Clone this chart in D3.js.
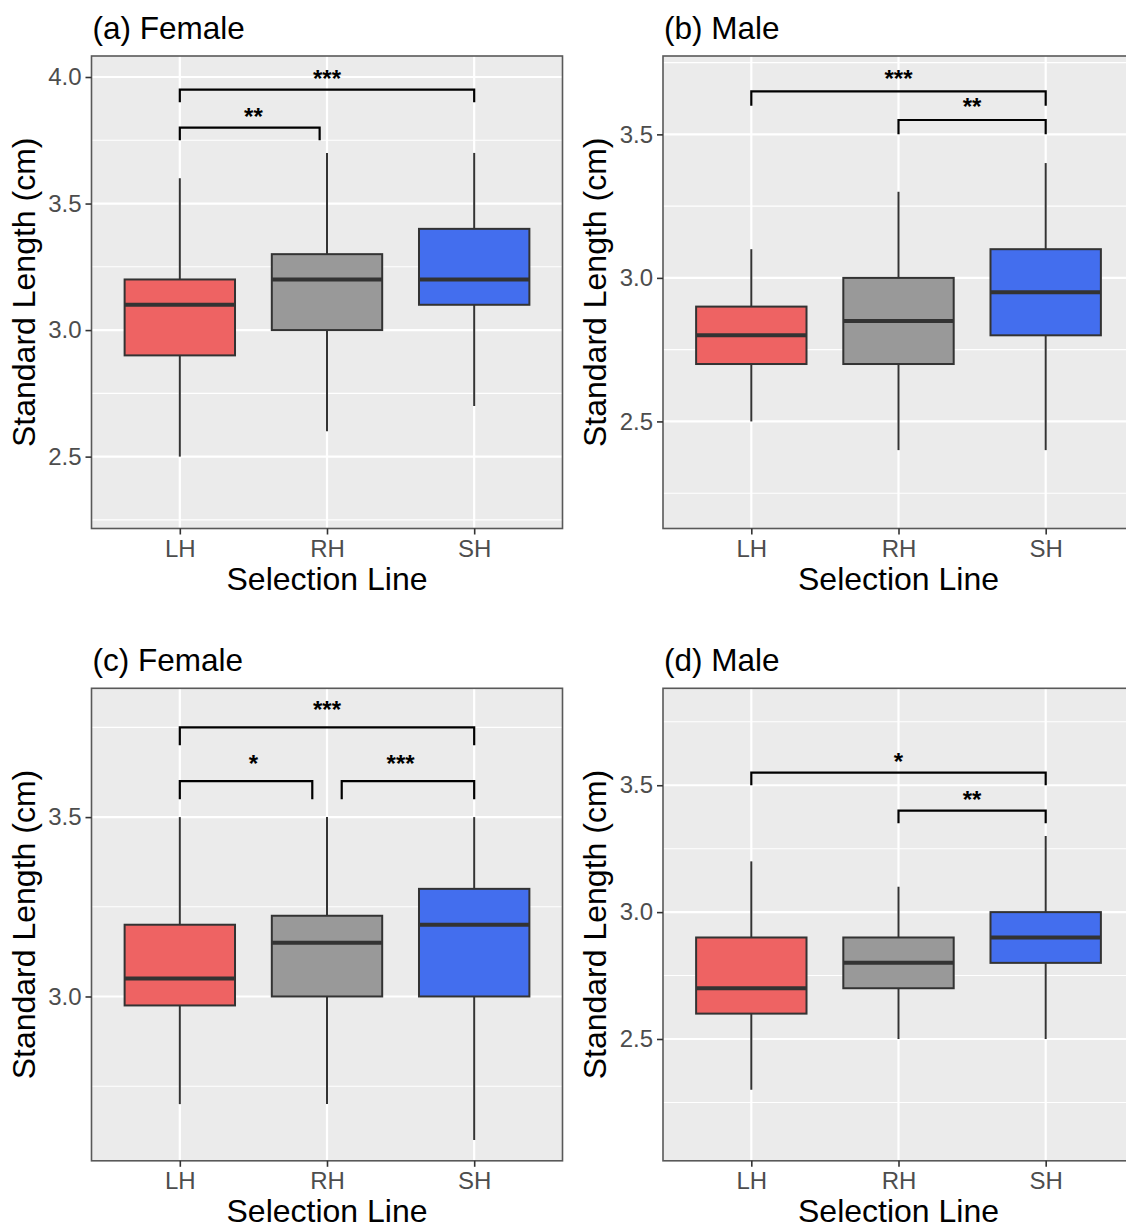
<!DOCTYPE html>
<html>
<head>
<meta charset="utf-8">
<script src="https://cdn.jsdelivr.net/npm/d3@7"></script>
<style>
  html, body { margin: 0; padding: 0; background: #ffffff; }
  svg { display: block; font-family: "Liberation Sans", Arial, Helvetica, sans-serif; }
</style>
</head>
<body>
<svg id="chart" width="1126" height="1225"></svg>
<script>
// ---------------- DATA ----------------
const categories = ["LH", "RH", "SH"];
const panelTitles = ["(a) Female", "(b) Male", "(c) Female", "(d) Male"];
const xAxisTitle = "Selection Line";
const yAxisTitle = "Standard Length (cm)";

// box-plot statistics per panel, one value per category (LH, RH, SH)
const whiskerLow  = [[2.5, 2.6, 2.7], [2.5, 2.4, 2.4], [2.7, 2.7, 2.6], [2.3, 2.5, 2.5]];
const quartile1   = [[2.9, 3.0, 3.1], [2.7, 2.7, 2.8], [2.975, 3.0, 3.0], [2.6, 2.7, 2.8]];
const medians     = [[3.1, 3.2, 3.2], [2.8, 2.85, 2.95], [3.05, 3.15, 3.2], [2.7, 2.8, 2.9]];
const quartile3   = [[3.2, 3.3, 3.4], [2.9, 3.0, 3.1], [3.2, 3.225, 3.3], [2.9, 2.9, 3.0]];
const whiskerHigh = [[3.6, 3.7, 3.7], [3.1, 3.3, 3.4], [3.5, 3.5, 3.5], [3.2, 3.1, 3.3]];

// y-axis limits and tick labels per panel
const yDomains = [[2.216, 4.083], [2.127, 3.773], [2.542, 3.859], [2.020, 3.882]];
const yTicks   = [[2.5, 3.0, 3.5, 4.0], [2.5, 3.0, 3.5], [3.0, 3.5], [2.5, 3.0, 3.5]];

// significance brackets per panel (x in category units, 1 = LH)
const bracketStart  = [[1, 1], [1, 2], [1, 1, 2.1], [1, 2]];
const bracketEnd    = [[1.95, 3], [3, 3], [3, 1.9, 3], [3, 3]];
const bracketLabelX = [[1.5, 2], [2, 2.5], [2, 1.5, 2.5], [2, 2.5]];
const bracketY      = [[3.80, 3.95], [3.65, 3.55], [3.75, 3.60, 3.60], [3.55, 3.40]];
const bracketLabels = [["**", "***"], ["***", "**"], ["***", "*", "***"], ["*", "**"]];
const tipLength = 0.05;
const labelOffset = 0.065;

// ---------------- STYLE / LAYOUT ----------------
const fills = ["#EE6363", "#999999", "#436EEE"];
const colX = [91.5, 663];
const rowY = [56, 688.3];
const plotW = 471, plotH = 472.5;

const svg = d3.select("#chart");

function drawPanel(p) {
  const left = colX[p % 2], top = rowY[Math.floor(p / 2)];
  const x = d3.scaleLinear().domain([0.4, 3.6]).range([left, left + plotW]);
  const y = d3.scaleLinear().domain(yDomains[p]).range([top + plotH, top]);
  const g = svg.append("g");

  // panel background
  g.append("rect").attr("x", left).attr("y", top).attr("width", plotW).attr("height", plotH)
    .attr("fill", "#EBEBEB");

  // minor grid
  const t = yTicks[p];
  const step = 0.5;
  const minor = [];
  for (let v = t[0] - step / 2; v < yDomains[p][1]; v += step) {
    if (v > yDomains[p][0]) minor.push(+v.toFixed(3));
  }
  g.selectAll(".minor").data(minor).enter().append("line")
    .attr("x1", left).attr("x2", left + plotW)
    .attr("y1", d => y(d)).attr("y2", d => y(d))
    .attr("stroke", "#ffffff").attr("stroke-width", 1.1);
  // major grid
  g.selectAll(".major").data(t).enter().append("line")
    .attr("x1", left).attr("x2", left + plotW)
    .attr("y1", d => y(d)).attr("y2", d => y(d))
    .attr("stroke", "#ffffff").attr("stroke-width", 2.2);
  g.selectAll(".vmajor").data([1, 2, 3]).enter().append("line")
    .attr("x1", d => x(d)).attr("x2", d => x(d))
    .attr("y1", top).attr("y2", top + plotH)
    .attr("stroke", "#ffffff").attr("stroke-width", 2.2);

  // boxplots
  const bw = 0.75;
  categories.forEach((c, i) => {
    const cx = x(i + 1);
    const hw = (x(1 + bw / 2) - x(1));
    g.append("line").attr("x1", cx).attr("x2", cx)
      .attr("y1", y(whiskerHigh[p][i])).attr("y2", y(quartile3[p][i]))
      .attr("stroke", "#333333").attr("stroke-width", 2);
    g.append("line").attr("x1", cx).attr("x2", cx)
      .attr("y1", y(quartile1[p][i])).attr("y2", y(whiskerLow[p][i]))
      .attr("stroke", "#333333").attr("stroke-width", 2);
    g.append("rect").attr("x", cx - hw).attr("width", 2 * hw)
      .attr("y", y(quartile3[p][i])).attr("height", y(quartile1[p][i]) - y(quartile3[p][i]))
      .attr("fill", fills[i]).attr("stroke", "#333333").attr("stroke-width", 2);
    g.append("line").attr("x1", cx - hw).attr("x2", cx + hw)
      .attr("y1", y(medians[p][i])).attr("y2", y(medians[p][i]))
      .attr("stroke", "#333333").attr("stroke-width", 4);
  });

  // brackets
  const fs = 24;
  bracketY[p].forEach((by, k) => {
    const x1 = x(bracketStart[p][k]), x2 = x(bracketEnd[p][k]);
    g.append("path")
      .attr("d", `M${x1},${y(by - tipLength)}L${x1},${y(by)}L${x2},${y(by)}L${x2},${y(by - tipLength)}`)
      .attr("fill", "none").attr("stroke", "#000000").attr("stroke-width", 2.2);
    g.append("text")
      .attr("x", x(bracketLabelX[p][k]))
      .attr("y", y(by + labelOffset) + 0.585 * fs)
      .attr("text-anchor", "middle")
      .attr("font-size", fs).attr("font-weight", "bold").attr("fill", "#000000")
      .text(bracketLabels[p][k]);
  });

  // panel border
  g.append("rect").attr("x", left).attr("y", top).attr("width", plotW).attr("height", plotH)
    .attr("fill", "none").attr("stroke", "#595959").attr("stroke-width", 1.6);

  // axes
  const ya = g.append("g").attr("transform", `translate(${left},0)`)
    .call(d3.axisLeft(y).tickValues(t).tickSize(6).tickPadding(4).tickFormat(d3.format(".1f")));
  ya.select(".domain").remove();
  ya.selectAll(".tick line").attr("stroke", "#333333").attr("stroke-width", 1.6);
  ya.selectAll(".tick text").attr("font-size", 24).attr("fill", "#4D4D4D")
    .attr("font-family", "Liberation Sans, Arial, sans-serif");

  const xa = g.append("g").attr("transform", `translate(0,${top + plotH})`)
    .call(d3.axisBottom(x).tickValues([1, 2, 3]).tickSize(6).tickPadding(5)
      .tickFormat(d => categories[d - 1]));
  xa.select(".domain").remove();
  xa.selectAll(".tick line").attr("stroke", "#333333").attr("stroke-width", 1.6);
  xa.selectAll(".tick text").attr("font-size", 24).attr("fill", "#4D4D4D")
    .attr("font-family", "Liberation Sans, Arial, sans-serif");

  // titles
  g.append("text").attr("x", left + 1).attr("y", top - 17.5)
    .attr("font-size", 31.5).attr("fill", "#000000").text(panelTitles[p]);
  g.append("text").attr("x", left + plotW / 2).attr("y", top + plotH + 61)
    .attr("text-anchor", "middle").attr("font-size", 32).attr("fill", "#000000")
    .text(xAxisTitle);
  g.append("text")
    .attr("transform", `translate(${left - 57},${top + plotH / 2}) rotate(-90)`)
    .attr("text-anchor", "middle").attr("font-size", 32).attr("fill", "#000000")
    .text(yAxisTitle);
}

for (let p = 0; p < 4; p++) drawPanel(p);
</script>
</body>
</html>
